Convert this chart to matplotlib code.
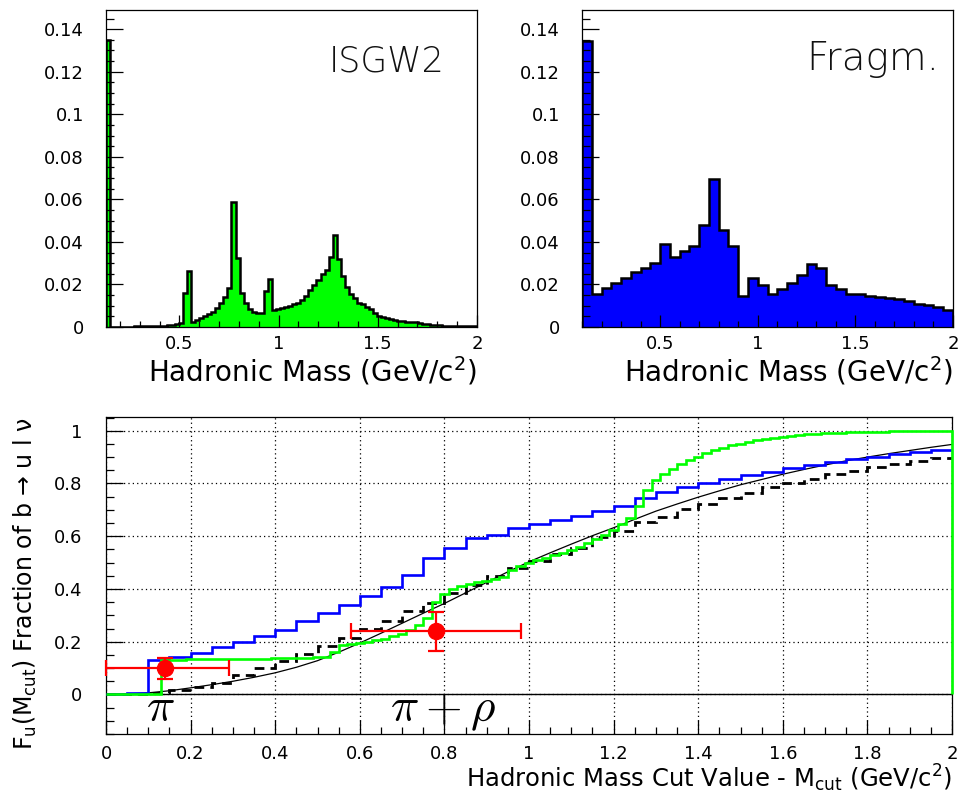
import numpy as np
import matplotlib
matplotlib.use("Agg")

import matplotlib.pyplot as plt
from matplotlib.ticker import MultipleLocator, FuncFormatter

plt.rcParams["font.family"] = ["DejaVu Sans"]

# --- top left: ISGW2 hadronic mass spectrum (bins of ~0.0204 GeV from 0.13) ---
isgw2_start = 0.13
isgw2_width = 0.0204
isgw2_vals = [
    0.135, 0.0, 0.0, 0.0001, 0.0001, 0.0002, 0.0002, 0.0003, 0.0003, 0.0004,
    0.0004, 0.0005, 0.0005, 0.0006, 0.0007, 0.0008, 0.0010, 0.0012, 0.0020, 0.0158,
    0.0264, 0.0025, 0.0033, 0.0042, 0.0050, 0.0060, 0.0072, 0.0090, 0.0112, 0.0140,
    0.0185, 0.0588, 0.0324, 0.0158, 0.0114, 0.0085, 0.0072, 0.0065, 0.0068, 0.0168,
    0.0224, 0.0080, 0.0083, 0.0088, 0.0092, 0.0098, 0.0106, 0.0112, 0.0128, 0.0148,
    0.0172, 0.0196, 0.0222, 0.0248, 0.0268, 0.0330, 0.0432, 0.0318, 0.0239, 0.0189,
    0.0155, 0.0135, 0.0114, 0.0108, 0.0095, 0.0083, 0.0064, 0.0053, 0.0049, 0.0044,
    0.0038, 0.0034, 0.0030, 0.0027, 0.0025, 0.0023, 0.0022, 0.0019, 0.0016, 0.0014,
    0.0011, 0.0009, 0.0008, 0.0007, 0.0006, 0.0006, 0.0005, 0.0005, 0.0004, 0.0004,
    0.0003, 0.0003,
]

# --- top right: fragmentation model spectrum (0.05 GeV bins from 0.1) ---
fragm_edges = np.round(np.arange(0.10, 2.001, 0.05), 3)
fragm_vals = [
    0.1344, 0.0154, 0.0184, 0.0207, 0.0232, 0.0259, 0.0275, 0.0303, 0.0392, 0.0329,
    0.0358, 0.0383, 0.0478, 0.0695, 0.0458, 0.0380, 0.0147, 0.0232, 0.0196, 0.0157,
    0.0179, 0.0207, 0.0243, 0.0295, 0.0279, 0.0199, 0.0179, 0.0157, 0.0154, 0.0147,
    0.0140, 0.0136, 0.0130, 0.0121, 0.0110, 0.0102, 0.0094, 0.0082,
]

# --- bottom: cumulative fractions vs M_cut ---
cum_edges = np.round(np.arange(0.0, 2.001, 0.05), 3)
fragm_cum = [
    0.0, 0.005, 0.130, 0.142, 0.159, 0.178, 0.198, 0.223, 0.246, 0.277,
    0.310, 0.341, 0.375, 0.408, 0.454, 0.516, 0.557, 0.593, 0.605, 0.631,
    0.645, 0.660, 0.676, 0.694, 0.715, 0.744, 0.769, 0.788, 0.803, 0.816,
    0.832, 0.845, 0.858, 0.870, 0.883, 0.893, 0.902, 0.911, 0.918, 0.927,
]
dashed_cum = [
    0.0, 0.0, 0.004, 0.015, 0.028, 0.045, 0.074, 0.100, 0.126, 0.154,
    0.183, 0.215, 0.247, 0.279, 0.315, 0.347, 0.385, 0.414, 0.449, 0.479,
    0.506, 0.532, 0.555, 0.598, 0.621, 0.653, 0.674, 0.703, 0.722, 0.744,
    0.763, 0.788, 0.800, 0.816, 0.834, 0.848, 0.864, 0.874, 0.886, 0.898,
]
isgw2_cum_edges = np.concatenate(([0.0], np.round(np.arange(0.13, 1.995, 0.02), 3), [2.0]))
isgw2_cum = [
    0.0,
    0.132, 0.132, 0.132, 0.133, 0.133, 0.133, 0.134, 0.134, 0.135, 0.135,
    0.135, 0.136, 0.136, 0.137, 0.137, 0.138, 0.138, 0.139, 0.141, 0.143,
    0.160, 0.186, 0.190, 0.195, 0.200, 0.206, 0.212, 0.220, 0.230, 0.243,
    0.262, 0.290, 0.350, 0.380, 0.398, 0.410, 0.419, 0.426, 0.432, 0.437,
    0.445, 0.470, 0.488, 0.500, 0.510, 0.519, 0.528, 0.537, 0.548, 0.560,
    0.573, 0.588, 0.605, 0.624, 0.645, 0.670, 0.715, 0.775, 0.812, 0.836,
    0.856, 0.873, 0.888, 0.902, 0.915, 0.926, 0.936, 0.944, 0.951, 0.958,
    0.963, 0.968, 0.973, 0.977, 0.980, 0.983, 0.986, 0.988, 0.990, 0.992,
    0.993, 0.994, 0.995, 0.996, 0.997, 0.997, 0.998, 0.998, 0.999, 0.999,
    0.999, 1.000, 1.000, 1.000,
]
smooth_x = [
    0.0, 0.05, 0.1, 0.15, 0.2, 0.25, 0.3, 0.35, 0.4, 0.45, 0.5, 0.55, 0.6, 0.65,
    0.7, 0.75, 0.8, 0.85, 0.9, 0.95, 1.0, 1.05, 1.1, 1.15, 1.2, 1.25, 1.3, 1.35,
    1.4, 1.45, 1.5, 1.55, 1.6, 1.65, 1.7, 1.75, 1.8, 1.85, 1.9, 1.95, 2.0,
]
smooth_y = [
    0.0, 0.002, 0.006, 0.014, 0.025, 0.037, 0.050, 0.065, 0.082, 0.103, 0.128,
    0.160, 0.195, 0.232, 0.270, 0.308, 0.345, 0.385, 0.425, 0.465, 0.503,
    0.537, 0.570, 0.602, 0.632, 0.664, 0.695, 0.722, 0.748, 0.772, 0.795,
    0.815, 0.835, 0.853, 0.870, 0.886, 0.900, 0.913, 0.925, 0.937, 0.948,
]
# measured points
pt_x = [0.14, 0.78]
pt_y = [0.10, 0.24]
pt_xlo = [0.0, 0.58]
pt_xhi = [0.29, 0.98]
pt_ylo = [0.06, 0.165]
pt_yhi = [0.14, 0.312]

LABEL_SIZE = 13


def _fmt(v, pos):
    return f"{v:g}"


def _style(ax, xmaj, xmin, ymaj, ymin, ylen, xlen, ypad, xpad):
    ax.xaxis.set_major_locator(MultipleLocator(xmaj))
    ax.xaxis.set_minor_locator(MultipleLocator(xmin))
    ax.yaxis.set_major_locator(MultipleLocator(ymaj))
    ax.yaxis.set_minor_locator(MultipleLocator(ymin))
    ax.xaxis.set_major_formatter(FuncFormatter(_fmt))
    ax.yaxis.set_major_formatter(FuncFormatter(_fmt))
    ax.tick_params(axis="both", which="both", direction="in", top=False, right=False,
                   width=0.9, labelsize=LABEL_SIZE)
    ax.tick_params(axis="y", which="major", length=ylen, pad=ypad)
    ax.tick_params(axis="y", which="minor", length=ylen / 2)
    ax.tick_params(axis="x", which="major", length=xlen, pad=xpad)
    ax.tick_params(axis="x", which="minor", length=xlen / 2)
    for sp in ax.spines.values():
        sp.set_linewidth(0.9)


fig = plt.figure(figsize=(9.58, 7.95), dpi=100)

# ISGW2
ax1 = fig.add_axes([106 / 958, 1 - 327 / 795, 371 / 958, 317 / 795])
isgw2_edges = isgw2_start + isgw2_width * np.arange(len(isgw2_vals) + 1)
ax1.stairs(isgw2_vals, isgw2_edges, fill=True, color="#00ff00", lw=0)
ax1.stairs(isgw2_vals, isgw2_edges, baseline=0, color="black", lw=1.8)
ax1.set_xlim(0.13, 2.0)
ax1.set_ylim(0, 0.149)
_style(ax1, 0.5, 0.1, 0.02, 0.005, 12, 9, 16, 6)
ax1.text(0.60, 0.805, "ISGW2", transform=ax1.transAxes, fontsize=25,
         fontweight="light", color="#111111")
ax1.text(1.0, -0.173, r"Hadronic Mass (GeV/c$^{\mathregular{2}}$)", transform=ax1.transAxes,
         ha="right", va="baseline", fontsize=20)

# Fragmentation
ax2 = fig.add_axes([582 / 958, 1 - 327 / 795, 371 / 958, 317 / 795])
ax2.stairs(fragm_vals, fragm_edges, fill=True, color="#0000ff", lw=0)
ax2.stairs(fragm_vals, fragm_edges, baseline=0, color="black", lw=1.8)
ax2.set_xlim(0.1, 2.0)
ax2.set_ylim(0, 0.149)
_style(ax2, 0.5, 0.1, 0.02, 0.005, 12, 9, 16, 6)
ax2.text(0.605, 0.81, "Fragm.", transform=ax2.transAxes, fontsize=28,
         fontweight="light", color="#111111")
ax2.text(1.0, -0.173, r"Hadronic Mass (GeV/c$^{\mathregular{2}}$)", transform=ax2.transAxes,
         ha="right", va="baseline", fontsize=20)

# cumulative fractions
ax3 = fig.add_axes([106 / 958, 1 - 734 / 795, 846 / 958, 317 / 795])
ax3.set_xlim(0, 2.0)
ax3.set_ylim(-0.15, 1.052)
ax3.grid(True, which="major", color="black", ls=(0, (1, 2.5)), lw=0.9)
ax3.axhline(0, color="black", lw=1.0, zorder=1.5)
ax3.stairs(dashed_cum, cum_edges, baseline=None, color="black", lw=2.0,
           ls=(0, (3.5, 2.2)), zorder=3)
ax3.plot(smooth_x, smooth_y, color="black", lw=0.9, zorder=3)
ax3.stairs(fragm_cum, cum_edges, baseline=None, color="#0000ff", lw=1.9, zorder=4)
ax3.stairs(isgw2_cum, isgw2_cum_edges, baseline=0, color="#00ff00", lw=1.9,
           zorder=5, clip_on=False)
xerr = [np.subtract(pt_x, pt_xlo), np.subtract(pt_xhi, pt_x)]
yerr = [np.subtract(pt_y, pt_ylo), np.subtract(pt_yhi, pt_y)]
ax3.errorbar(pt_x, pt_y, xerr=xerr, yerr=yerr, fmt="o", color="red", ms=11.5,
             elinewidth=1.6, capsize=6, capthick=1.6, zorder=6, clip_on=False)
ax3.text(0.128, -0.10, r"$\pi$", fontsize=34, ha="center", va="baseline",
         math_fontfamily="cm")
ax3.text(0.797, -0.10, r"$\pi+\rho$", fontsize=34, ha="center", va="baseline",
         math_fontfamily="cm")
_style(ax3, 0.2, 0.05, 0.2, 0.05, 12, 10, 17, 8)
ax3.text(-0.087, 1.0,
         r"F$_{\mathregular{u}}$(M$_{\mathregular{cut}}$) Fraction of b → u l ν",
         transform=ax3.transAxes, rotation=90, ha="right", va="baseline",
         rotation_mode="anchor", fontsize=17)
ax3.text(1.0, -0.168,
         r"Hadronic Mass Cut Value - M$_{\mathregular{cut}}$ (GeV/c$^{\mathregular{2}}$)",
         transform=ax3.transAxes, ha="right", va="baseline", fontsize=17.5)

fig.savefig("out.png", dpi=100)
